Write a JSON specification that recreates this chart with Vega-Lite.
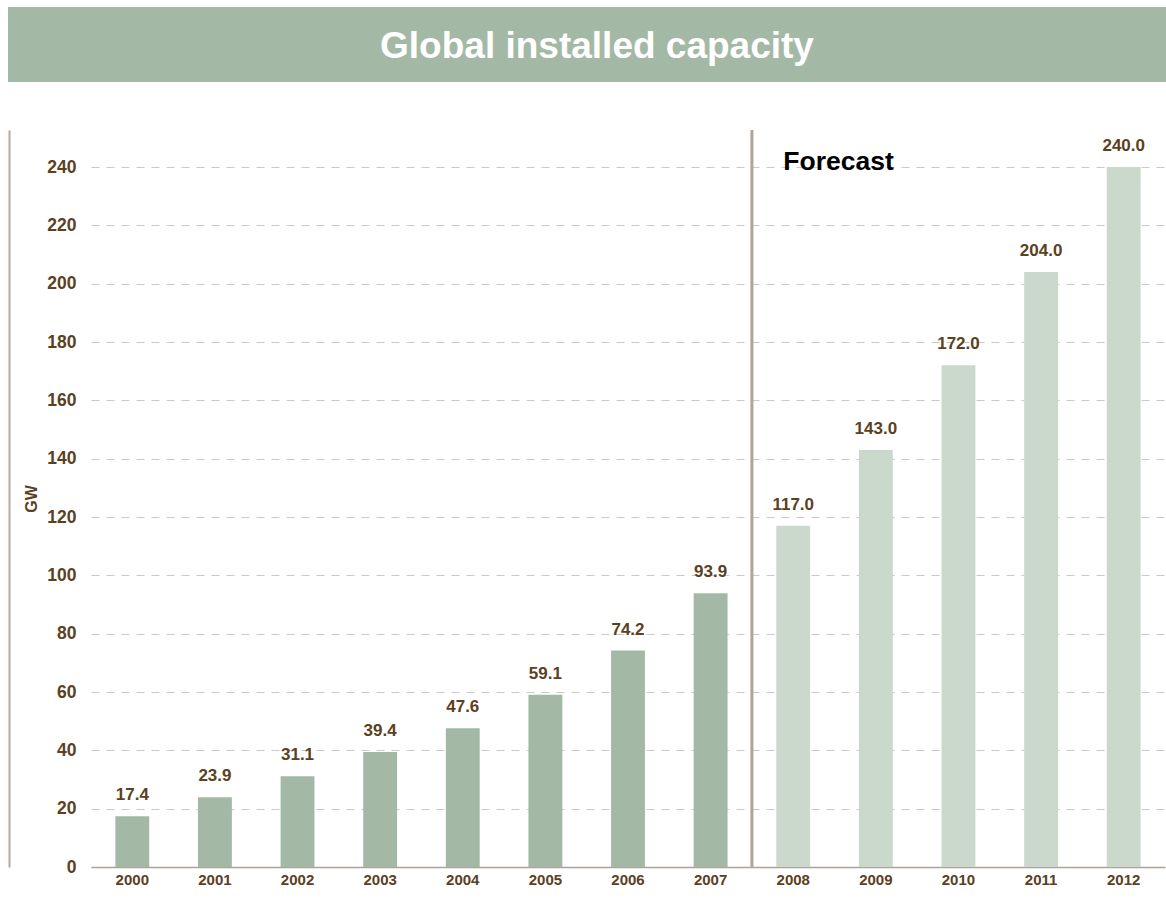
{
  "$schema": "https://vega.github.io/schema/vega-lite/v6.json",
  "padding": {"left": 8, "top": 7, "right": 0, "bottom": 0},
  "background": "white",
  "spacing": 46,
  "config": {
    "view": {"stroke": null},
    "font": "Liberation Sans"
  },
  "datasets": {
    "cap": [
      {"year": "2000", "gw": 17.4, "kind": "Actual"},
      {"year": "2001", "gw": 23.9, "kind": "Actual"},
      {"year": "2002", "gw": 31.1, "kind": "Actual"},
      {"year": "2003", "gw": 39.4, "kind": "Actual"},
      {"year": "2004", "gw": 47.6, "kind": "Actual"},
      {"year": "2005", "gw": 59.1, "kind": "Actual"},
      {"year": "2006", "gw": 74.2, "kind": "Actual"},
      {"year": "2007", "gw": 93.9, "kind": "Actual"},
      {"year": "2008", "gw": 117.0, "kind": "Forecast"},
      {"year": "2009", "gw": 143.0, "kind": "Forecast"},
      {"year": "2010", "gw": 172.0, "kind": "Forecast"},
      {"year": "2011", "gw": 204.0, "kind": "Forecast"},
      {"year": "2012", "gw": 240.0, "kind": "Forecast"}
    ]
  },
  "vconcat": [
    {
      "width": 1158,
      "height": 75,
      "view": {"fill": "#A3B9A5", "stroke": null},
      "data": {"values": [{"t": "Global installed capacity"}]},
      "mark": {"type": "text", "color": "white", "fontSize": 37, "fontWeight": "bold", "font": "Liberation Sans", "baseline": "middle", "align": "center", "dy": 2, "dx": 10},
      "encoding": {"text": {"field": "t", "type": "nominal"}}
    },
    {
      "spacing": 0,
      "hconcat": [
        {
          "width": 1,
          "height": 1,
          "data": {"values": []},
          "mark": {"type": "point", "opacity": 0}
        },
        {
          "width": 1074,
          "height": 737,
          "data": {"name": "cap"},
          "resolve": {"axis": {"y": "independent"}},
          "layer": [
            {
              "mark": {"type": "bar", "width": {"band": 0.41}},
              "encoding": {
                "x": {
                  "field": "year", "type": "nominal", "sort": null,
                  "scale": {"paddingInner": 0, "paddingOuter": 0},
                  "axis": {"title": null, "labelAngle": 0, "labelFontSize": 15, "labelFontWeight": "bold", "labelColor": "#5C4022", "labelFont": "Liberation Sans", "ticks": false, "labelPadding": 5, "domainColor": "#ACA49C", "domainWidth": 1.5, "grid": false}
                },
                "y": {
                  "field": "gw", "type": "quantitative",
                  "scale": {"domain": [0, 252.7], "nice": false, "zero": true},
                  "axis": {"orient": "left", "title": "GW", "titleFontSize": 16, "titleFontWeight": "bold", "titleColor": "#5C4022", "titlePadding": 7, "titleFont": "Liberation Sans",
                    "values": [0, 20, 40, 60, 80, 100, 120, 140, 160, 180, 200, 220, 240],
                    "labelFontSize": 17.5, "labelFontWeight": "bold", "labelColor": "#5C4022", "labelFont": "Liberation Sans", "labelPadding": 15, "ticks": false, "domain": false,
                    "grid": true, "gridColor": "#C9C9C9", "gridDash": [8, 7], "gridWidth": 1}
                },
                "color": {
                  "field": "kind", "type": "nominal",
                  "scale": {"domain": ["Actual", "Forecast"], "range": ["#A3B9A5", "#CBD9CD"]},
                  "legend": null
                }
              }
            },
            {
              "mark": {"type": "text", "fontSize": 17, "fontWeight": "bold", "color": "#5C4022", "font": "Liberation Sans", "baseline": "middle", "dy": -21},
              "encoding": {
                "x": {"field": "year", "type": "nominal", "sort": null},
                "y": {
                  "field": "gw", "type": "quantitative",
                  "scale": {"domain": [0, 252.7], "nice": false, "zero": true},
                  "axis": {"orient": "left", "offset": 82, "title": null, "labels": false, "ticks": false, "grid": false, "domain": true, "domainColor": "#B3AAA2", "domainWidth": 2}
                },
                "text": {"field": "gw", "type": "quantitative", "format": ".1f"}
              }
            },
            {
              "data": {"values": [{"at": "2008"}]},
              "mark": {"type": "rule", "color": "#ADA59D", "strokeWidth": 3},
              "encoding": {
                "x": {"field": "at", "type": "nominal", "bandPosition": 0}
              }
            },
            {
              "data": {"values": [{"at": "2008", "label": "Forecast", "v": 239}]},
              "mark": {"type": "text", "fontSize": 26.5, "fontWeight": "bold", "color": "black", "font": "Liberation Sans", "align": "left", "baseline": "alphabetic"},
              "encoding": {
                "x": {"field": "at", "type": "nominal", "bandPosition": 0.38},
                "y": {"field": "v", "type": "quantitative", "axis": null},
                "text": {"field": "label", "type": "nominal"}
              }
            }
          ]
        }
      ]
    }
  ]
}
